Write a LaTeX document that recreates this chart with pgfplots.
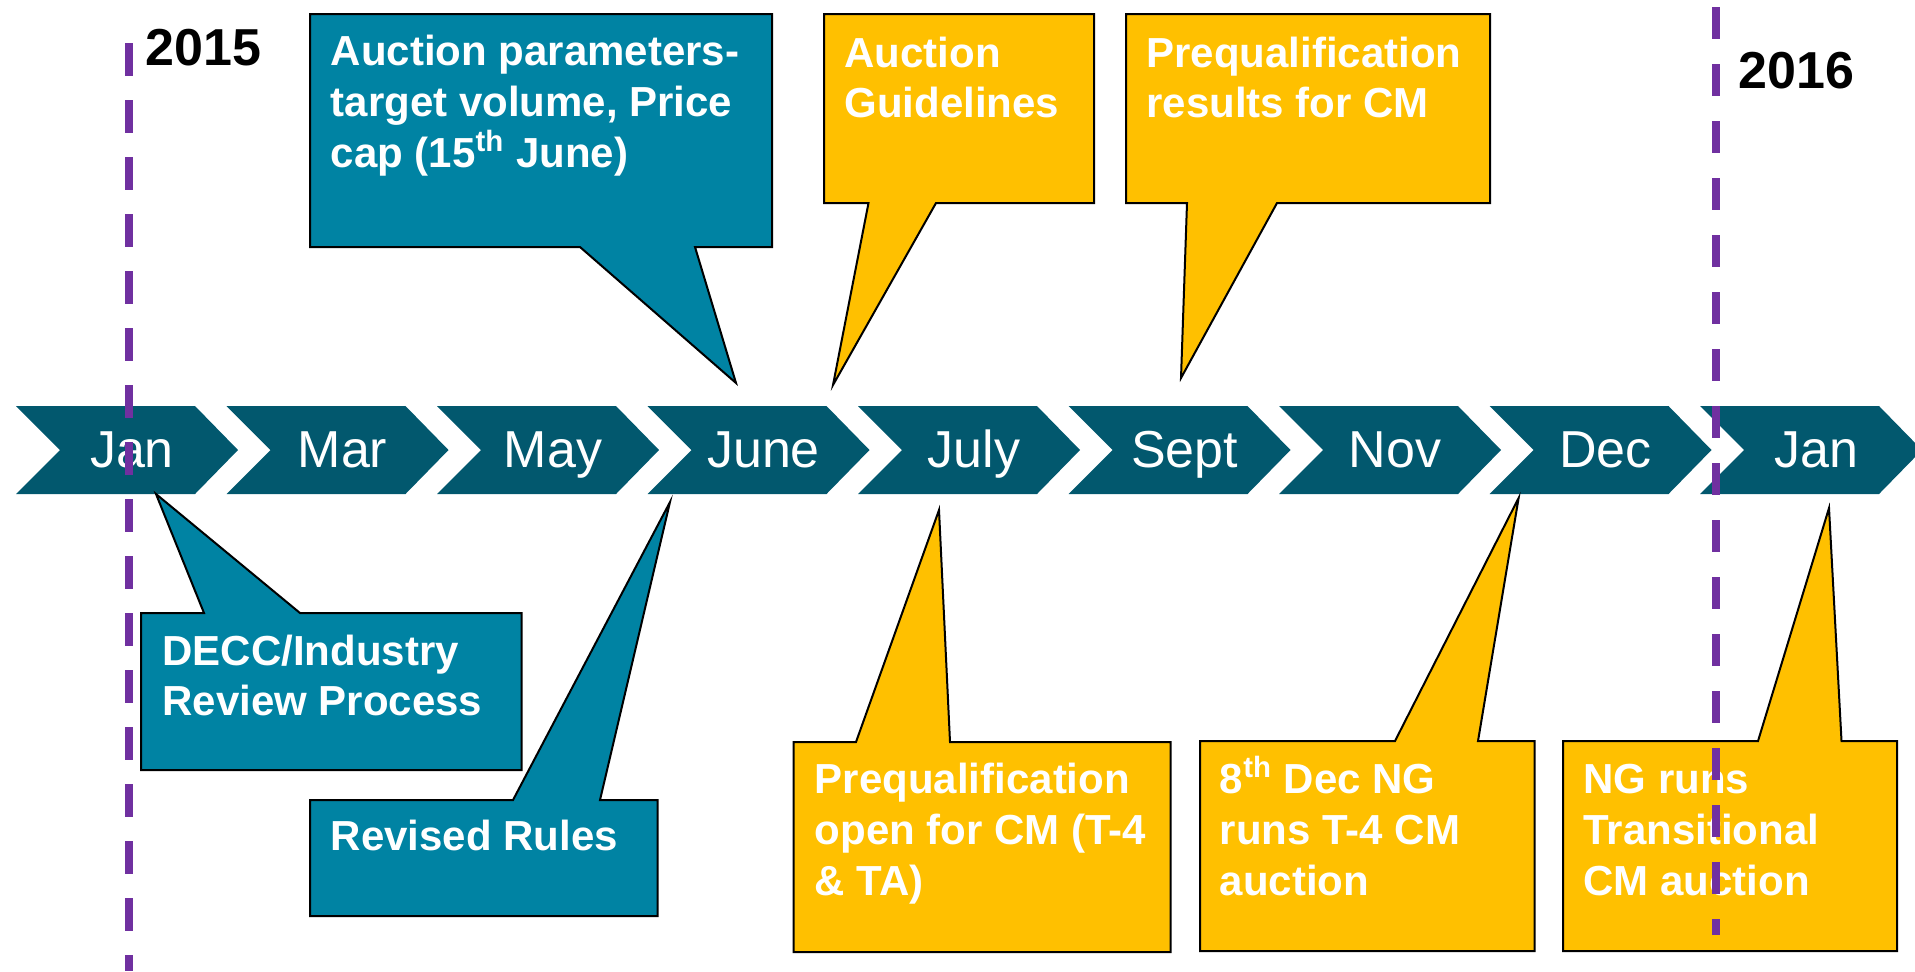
\documentclass[border=0pt]{standalone}
\usepackage{fontspec}
\setmainfont{Liberation Sans}
\usepackage{pgfplots}
\pgfplotsset{compat=1.18}

\definecolor{chev}{HTML}{02586E}
\definecolor{calteal}{HTML}{0083A3}
\definecolor{calgold}{HTML}{FFC000}
\definecolor{purp}{HTML}{7030A0}

\newcommand\callfont{\fontsize{21pt}{25.5pt}\selectfont\bfseries}
\newcommand\monfont{\fontsize{26pt}{30pt}\selectfont}

\tikzset{
  chevron/.style={fill=chev, draw=none},
  teal box/.style={fill=calteal, draw=black, line width=1pt},
  gold box/.style={fill=calgold, draw=black, line width=1pt},
  callt/.style={anchor=base west, text=white, font=\callfont, inner sep=0pt},
  mon/.style={anchor=base, text=white, font=\monfont, inner sep=0pt},
}

\begin{document}
\begin{tikzpicture}
\begin{axis}[
  width=957.5pt, height=485.5pt, scale only axis,
  xmin=0, xmax=1915, ymin=0, ymax=971, y dir=reverse,
  hide axis, clip=true,
]
% month chevrons
\addplot[chevron] coordinates {(16,406)(195,406)(238,450)(195,494)(16,494)(60,450)} -- cycle;
\addplot[chevron] coordinates {(226.5,406)(405.5,406)(448.5,450)(405.5,494)(226.5,494)(270.5,450)} -- cycle;
\addplot[chevron] coordinates {(437,406)(616,406)(659,450)(616,494)(437,494)(481,450)} -- cycle;
\addplot[chevron] coordinates {(647.5,406)(826.5,406)(869.5,450)(826.5,494)(647.5,494)(691.5,450)} -- cycle;
\addplot[chevron] coordinates {(858,406)(1037,406)(1080,450)(1037,494)(858,494)(902,450)} -- cycle;
\addplot[chevron] coordinates {(1068.5,406)(1247.5,406)(1290.5,450)(1247.5,494)(1068.5,494)(1112.5,450)} -- cycle;
\addplot[chevron] coordinates {(1279,406)(1458,406)(1501,450)(1458,494)(1279,494)(1323,450)} -- cycle;
\addplot[chevron] coordinates {(1489.5,406)(1668.5,406)(1711.5,450)(1668.5,494)(1489.5,494)(1533.5,450)} -- cycle;
\addplot[chevron] coordinates {(1700,406)(1879,406)(1922,450)(1879,494)(1700,494)(1744,450)} -- cycle;

\node[mon] at (axis cs:132,467) {Jan};
\node[mon] at (axis cs:342.5,467) {Mar};
\node[mon] at (axis cs:553,467) {May};
\node[mon] at (axis cs:763.5,467) {June};
\node[mon] at (axis cs:974,467) {July};
\node[mon] at (axis cs:1184.5,467) {Sept};
\node[mon] at (axis cs:1395,467) {Nov};
\node[mon] at (axis cs:1605.5,467) {Dec};
\node[mon] at (axis cs:1816,467) {Jan};

% callouts above
\addplot[teal box] coordinates {(310,14)(772,14)(772,247)(695,247)(736,383)(580,247)(310,247)} -- cycle;
\addplot[gold box] coordinates {(824,14)(1094,14)(1094,203)(936,203)(833,385)(868.5,203)(824,203)} -- cycle;
\addplot[gold box] coordinates {(1126,14)(1490,14)(1490,203)(1277,203)(1181,378)(1187,203)(1126,203)} -- cycle;
% callouts below
\addplot[teal box] coordinates {(141,613)(204,613)(156,494)(300,613)(521.5,613)(521.5,770)(141,770)} -- cycle;
\addplot[teal box] coordinates {(310,800)(513,800)(670,502)(600,800)(657.5,800)(657.5,916)(310,916)} -- cycle;
\addplot[gold box] coordinates {(793.5,742)(856,742)(939,510)(950,742)(1170.5,742)(1170.5,952)(793.5,952)} -- cycle;
\addplot[gold box] coordinates {(1200,741)(1395,741)(1518.6,498)(1478,741)(1534.6,741)(1534.6,951)(1200,951)} -- cycle;
\addplot[gold box] coordinates {(1563,741)(1758,741)(1829,508)(1841.5,741)(1897,741)(1897,951)(1563,951)} -- cycle;

\node[callt] at (axis cs:330.5,65) {Auction parameters-};
\node[callt] at (axis cs:330.5,116) {target volume, Price};
\node[callt] at (axis cs:330.5,167) {cap (15\textsuperscript{th} June)};
\node[callt] at (axis cs:844,67) {Auction};
\node[callt] at (axis cs:844,117) {Guidelines};
\node[callt] at (axis cs:1146,67) {Prequalification};
\node[callt] at (axis cs:1146,117) {results for CM};
\node[callt] at (axis cs:162,665) {DECC/Industry};
\node[callt] at (axis cs:162,715) {Review Process};
\node[callt] at (axis cs:330.5,850) {Revised Rules};
\node[callt] at (axis cs:814.5,793) {Prequalification};
\node[callt] at (axis cs:814.5,844) {open for CM (T-4};
\node[callt] at (axis cs:814.5,895) {\& TA)};
\node[callt] at (axis cs:1219.5,793) {8\textsuperscript{th} Dec NG};
\node[callt] at (axis cs:1219.5,844) {runs T-4 CM};
\node[callt] at (axis cs:1219.5,895) {auction};
\node[callt] at (axis cs:1583,793) {NG runs};
\node[callt] at (axis cs:1583,844) {Transitional};
\node[callt] at (axis cs:1583,895) {CM auction};

% year labels
\node[anchor=base west, font=\monfont\bfseries, inner sep=0pt] at (axis cs:145,65) {2015};
\node[anchor=base west, font=\monfont\bfseries, inner sep=0pt] at (axis cs:1738,88) {2016};

% year boundaries
\addplot[purp, line width=4pt, dash pattern=on 16.5pt off 12pt] coordinates {(128.5,43)(128.5,971)};
\addplot[purp, line width=4pt, dash pattern=on 16pt off 12.5pt] coordinates {(1716,7)(1716,935)};
\end{axis}
\path[use as bounding box] (current axis.south west) rectangle (current axis.north east);
\end{tikzpicture}
\end{document}
